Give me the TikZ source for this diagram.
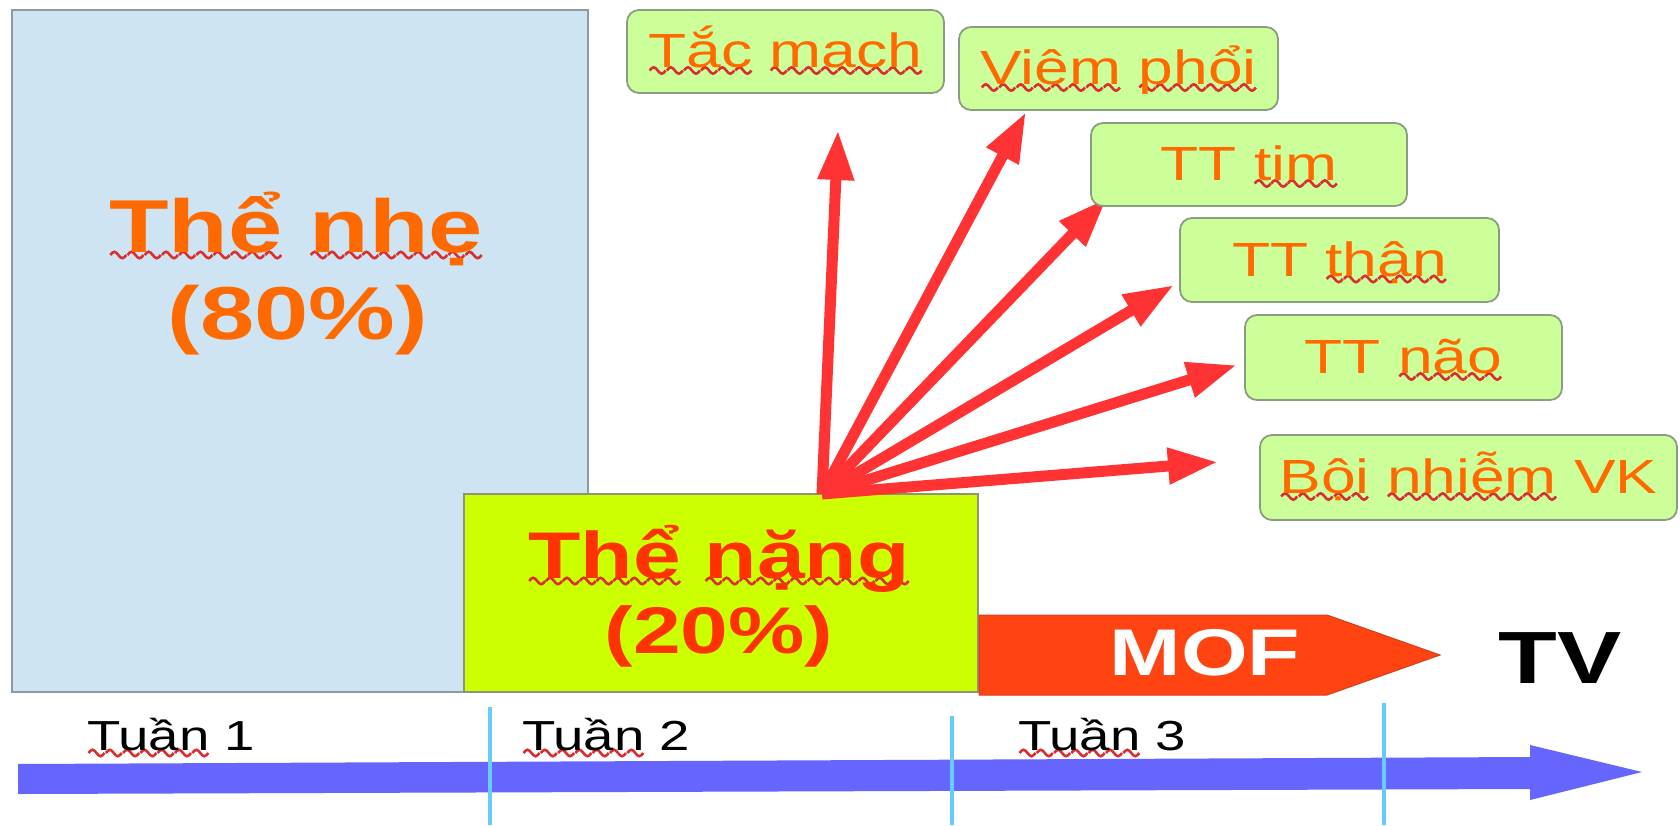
\documentclass[tikz,border=0pt]{standalone}
\usepackage{fontspec}
\usetikzlibrary{arrows.meta}
\newfontfamily\wsans[FakeStretch=1.3]{Liberation Sans}
\definecolor{lightbox}{HTML}{CFE4F2}
\definecolor{lightedge}{HTML}{8E9AA3}
\definecolor{ygfill}{HTML}{CCFF00}
\definecolor{ygedge}{HTML}{8F9478}
\definecolor{gfill}{HTML}{CCFF99}
\definecolor{gedge}{HTML}{8C9C80}
\definecolor{txtorange}{HTML}{FF6A00}
\definecolor{nangred}{HTML}{FF3300}
\definecolor{arrred}{HTML}{FF3333}
\definecolor{mofred}{HTML}{FF4411}
\definecolor{mofedge}{HTML}{D04020}
\definecolor{tlblue}{HTML}{6666FF}
\definecolor{lineblue}{HTML}{66CCFF}
\definecolor{wavered}{HTML}{D83030}
\newsavebox\wavebox
\newsavebox\sqbox
\newcommand\sq[1]{\sbox\sqbox{#1}\leavevmode\rlap{\raisebox{-7pt}{\hbox to \wd\sqbox{\xleaders\copy\wavebox\hfill}}}\usebox\sqbox}
\begin{document}
\sbox\wavebox{%
\begin{pgfpicture}%
\pgfpathrectanglecorners{\pgfpoint{0pt}{-4pt}}{\pgfpoint{16pt}{4pt}}%
\pgfusepath{use as bounding box}%
\pgfsetstrokecolor{wavered}%
\pgfsetlinewidth{2.6pt}%
\pgfpathmoveto{\pgfpoint{0pt}{0pt}}%
\pgfpathsine{\pgfpoint{4pt}{3.2pt}}%
\pgfpathcosine{\pgfpoint{4pt}{-3.2pt}}%
\pgfpathsine{\pgfpoint{4pt}{-3.2pt}}%
\pgfpathcosine{\pgfpoint{4pt}{3.2pt}}%
\pgfusepath{stroke}%
\end{pgfpicture}}%
\begin{tikzpicture}[x=1pt,y=-1pt,
  gbox/.style={draw=gedge, line width=1.8pt, fill=gfill, rounded corners=12pt,
    inner sep=0pt, text height=40pt, text depth=8pt,
    font=\wsans\fontsize{48}{56}\selectfont, text=txtorange},
  redarr/.style={draw=arrred, line width=11pt, -{Triangle[length=50pt,width=34pt]}},
  week/.style={anchor=base west, inner sep=0pt, font=\wsans\fontsize{42}{50}\selectfont, text=black},
  vline/.style={draw=lineblue, line width=4pt},
  bigtxt/.style={anchor=base, inner sep=0pt}]
\useasboundingbox (0,0) rectangle (1680,825);
\fill[white] (0,0) rectangle (1680,825);

% big boxes
\node[draw=lightedge, line width=1.8pt, fill=lightbox, minimum width=576pt, minimum height=682pt,
  inner sep=0pt, anchor=north west] (light) at (11,9) {};
\node[bigtxt, font=\wsans\bfseries\fontsize{75}{80}\selectfont, text=txtorange] (nhe) at (296,252) {\sq{Thể} \sq{nhẹ}};
\node[bigtxt, font=\wsans\bfseries\fontsize{75}{80}\selectfont, text=txtorange] (nhep) at (298,339) {(80\%)};

\node[draw=ygedge, line width=1.8pt, fill=ygfill, minimum width=514pt, minimum height=198pt,
  inner sep=0pt, anchor=north west] (heavy) at (463,493) {};
\node[bigtxt, font=\wsans\bfseries\fontsize{66}{72}\selectfont, text=nangred] (nang) at (719,578) {\sq{Thể} \sq{nặng}};
\node[bigtxt, font=\wsans\bfseries\fontsize{66}{72}\selectfont, text=nangred] (nangp) at (719,653) {(20\%)};

% MOF arrow
\draw[fill=mofred, draw=mofedge, line width=1pt] (979,615) -- (1327,615) -- (1440,655) -- (1327,695) -- (979,695) -- cycle;
\node[bigtxt, font=\wsans\bfseries\fontsize{66}{72}\selectfont, text=white] (mof) at (1205,675) {MOF};
\node[bigtxt, font=\wsans\bfseries\fontsize{74}{80}\selectfont, text=black] (tv) at (1560,683) {TV};

% timeline
\fill[tlblue] (18,764) -- (1530,757) -- (1530,745) -- (1642,772) -- (1530,800) -- (1530,789) -- (18,794) -- cycle;
\draw[vline] (490,707) -- (490,825);
\draw[vline] (952,716) -- (952,825);
\draw[vline] (1384,703) -- (1384,825);
\node[week] (w1) at (87,750) {\sq{Tuần} 1};
\node[week] (w2) at (522,750) {\sq{Tuần} 2};
\node[week] (w3) at (1018,750) {\sq{Tuần} 3};

% red arrows
\coordinate (o) at (822,494);
\coordinate (tTac) at (838,130);
\coordinate (tViem) at (1026,112);
\coordinate (tTim) at (1107,198);
\coordinate (tThan) at (1174,285);
\coordinate (tNao) at (1237,365);
\coordinate (tBoi) at (1218,462);
\draw[redarr] (o) -- (tTac);
\draw[redarr] (o) -- (tViem);
\draw[redarr] (o) -- (tTim);
\draw[redarr] (o) -- (tThan);
\draw[redarr] (o) -- (tNao);
\draw[redarr] (o) -- (tBoi);

% green boxes
\node[gbox, minimum width=317pt, minimum height=83pt] (tac) at (785.5,51.5) {\sq{Tắc} \sq{mach}};
\node[gbox, minimum width=319pt, minimum height=83pt] (viem) at (1118.5,68.5) {\sq{Viêm} \sq{phổi}};
\node[gbox, minimum width=316pt, minimum height=83pt] (tim) at (1249,164.5) {TT \sq{tim}};
\node[gbox, minimum width=319pt, minimum height=84pt] (than) at (1339.5,260) {TT \sq{thận}};
\node[gbox, minimum width=317pt, minimum height=85pt] (nao) at (1403.5,357.5) {TT \sq{não}};
\node[gbox, minimum width=417pt, minimum height=85pt] (boi) at (1468.5,477.5) {\sq{Bội} \sq{nhiễm} VK};
\end{tikzpicture}
\end{document}
